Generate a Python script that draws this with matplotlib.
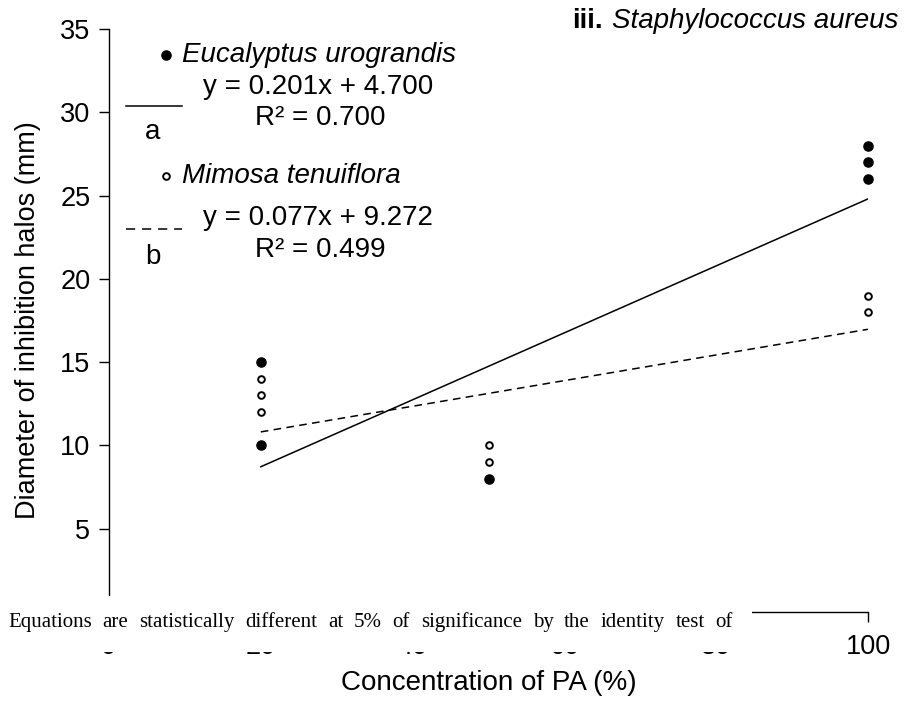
import numpy as np
import matplotlib.pyplot as plt
from matplotlib.lines import Line2D
from matplotlib.patches import Rectangle

plt.rcParams['font.family'] = ['Liberation Sans', 'DejaVu Sans']

# data
conc_eu = [20, 20, 50, 100, 100, 100]
diam_eu = [15, 10, 8, 28, 27, 26]
conc_mt = [20, 20, 20, 50, 50, 100, 100]
diam_mt = [14, 13, 12, 10, 9, 19, 18]

species = ['Eucalyptus urograndis', 'Mimosa tenuiflora']
slopes = [0.201, 0.077]
intercepts = [4.700, 9.272]
r2 = [0.700, 0.499]
fit_x = np.array([20, 100])

xticks = [0, 20, 40, 60, 80, 100]
yticks = [0, 5, 10, 15, 20, 25, 30, 35]

caption = 'Equations are statistically different at 5% of significance by the identity test of'

W, H = 924, 704


def fpx(x, y):
    # pixel position -> figure fraction
    return x / W, 1 - y / H


fig = plt.figure(figsize=(W / 100, H / 100), dpi=100)
ax = fig.add_axes([109 / W, (H - 612) / H, 759 / W, 583 / H])

ax.plot(fit_x, slopes[0] * fit_x + intercepts[0], color='black', lw=1.1)
ax.plot(fit_x, slopes[1] * fit_x + intercepts[1], color='black', lw=1.1, dashes=(5, 3.5))
ax.plot(conc_eu, diam_eu, 'o', color='black', ms=6.6, clip_on=False)
ax.plot(conc_mt, diam_mt, 'o', mfc='white', mec='black', ms=4.8, mew=1.4, clip_on=False)

ax.set_xlim(0, 100)
ax.set_ylim(0, 35)
ax.set_xticks(xticks)
ax.set_yticks(yticks)
for s in ['top', 'right']:
    ax.spines[s].set_visible(False)
for s in ['left', 'bottom']:
    ax.spines[s].set_linewidth(1.0)
ax.tick_params(axis='both', length=7.5, width=1.0, labelsize=19.5, pad=6)
ax.tick_params(axis='x', pad=8)

ax.set_ylabel('Diameter of inhibition halos (mm)', fontsize=19.5)
ax.yaxis.set_label_coords(-0.09, 0.5)
ax.set_xlabel('Concentration of PA (%)', fontsize=20)
ax.xaxis.set_label_coords(0.5, -0.1)

# hand made legend
leg_rows = [(55, 87, 118, 106, 132, '-'), (176, 218, 250, 229, 257, '--')]
for i, (yn, ye, yr, yl, yab, ls) in enumerate(leg_rows):
    if i == 0:
        fig.add_artist(Line2D([166 / W], [1 - yn / H], marker='o', color='black', ms=6.6))
    else:
        fig.add_artist(Line2D([166 / W], [1 - yn / H], marker='o', mfc='white', mec='black',
                              ms=4.8, mew=1.4))
    fig.text(*fpx(182, yn), species[i], fontsize=20, style='italic', va='center', ha='left')
    fig.text(*fpx(318, ye), f'y = {slopes[i]:.3f}x + {intercepts[i]:.3f}', fontsize=20,
             va='center', ha='center')
    fig.text(*fpx(320, yr), f'R² = {r2[i]:.3f}', fontsize=20, va='center', ha='center')
    ln = Line2D([126 / W, 182 / W], [1 - yl / H, 1 - yl / H], color='black', lw=1.1)
    if ls == '--':
        ln.set_dashes((6, 4.5))
    fig.add_artist(ln)
    fig.text(*fpx(153, yab), 'ab'[i], fontsize=20, va='center', ha='center')

fig.text(*fpx(572, 21), 'iii.', fontsize=20, weight='bold', va='center', ha='left')
fig.text(*fpx(612, 21), 'Staphylococcus aureus', fontsize=20, style='italic',
         va='center', ha='left')

# white box with the pasted caption over the lower axis
fig.add_artist(Rectangle(fpx(0, 652), 752 / W, 56 / H, transform=fig.transFigure,
                         facecolor='white', edgecolor='none', zorder=10))
renderer = fig.canvas.get_renderer()
words = caption.split()
wtexts = [fig.text(0, 0, w, fontsize=15, family='Liberation Serif', va='baseline',
                   ha='left', zorder=11) for w in words]
widths = [t.get_window_extent(renderer).width for t in wtexts]
x0, x1 = 8, 733
gap = (x1 - x0 - sum(widths)) / (len(words) - 1)
x = x0
for t, w in zip(wtexts, widths):
    t.set_position(fpx(x, 627))
    x += w + gap

fig.savefig('out.png', dpi=100)
